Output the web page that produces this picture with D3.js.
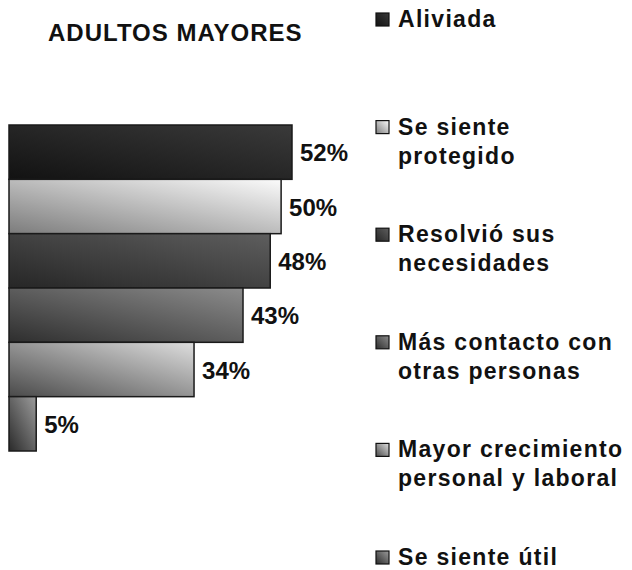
<!DOCTYPE html>
<html>
<head>
<meta charset="utf-8">
<script src="https://cdn.jsdelivr.net/npm/d3@7"></script>
<style>
  body { margin: 0; background: #fff; }
  text { font-family: "Liberation Sans", Arial, sans-serif; font-weight: bold; fill: #111; }
</style>
</head>
<body>
<div id="chart"></div>
<script>
// Data
const categories = ["Aliviada", "Se siente protegido", "Resolvió sus necesidades",
  "Más contacto con otras personas", "Mayor crecimiento personal y laboral", "Se siente útil"];
const values = [52, 50, 48, 43, 34, 5];
const legendLines = [["Aliviada"], ["Se siente", "protegido"], ["Resolvió sus", "necesidades"],
  ["Más contacto con", "otras personas"], ["Mayor crecimiento", "personal y laboral"], ["Se siente útil"]];
const shadesDark = ["#121212", "#7c7c7c", "#262626", "#2e2e2e", "#4a4a4a", "#2a2a2a"];
const shadesLight = ["#3a3a3a", "#fbfbfb", "#5e5e5e", "#8c8c8c", "#dedede", "#9c9c9c"];
const title = "ADULTOS MAYORES";

const W = 632, H = 570;
const svg = d3.select("#chart").append("svg")
  .attr("width", W)
  .attr("height", H);

const data = categories.map((c, i) => ({ cat: c, value: values[i], i: i }));

// gradients: dark bottom-left to light top-right
const defs = svg.append("defs");
data.forEach(d => {
  const g = defs.append("linearGradient")
    .attr("id", "grad" + d.i)
    .attr("x1", 0).attr("y1", 1)
    .attr("x2", 1).attr("y2", 0);
  g.append("stop").attr("offset", "0%").attr("stop-color", shadesDark[d.i]);
  g.append("stop").attr("offset", "100%").attr("stop-color", shadesLight[d.i]);
});

const x = d3.scaleLinear()
  .domain([0, 52])
  .range([9, 292]);

const y = d3.scaleBand()
  .domain(categories)
  .range([125, 451])
  .padding(0);

svg.append("text")
  .attr("x", 48)
  .attr("y", 41)
  .style("font-size", "24px")
  .style("letter-spacing", "1px")
  .text(title);

svg.selectAll(".bar")
  .data(data)
  .enter().append("rect")
  .attr("class", "bar")
  .attr("x", x(0))
  .attr("y", d => y(d.cat))
  .attr("width", d => x(d.value) - x(0))
  .attr("height", y.bandwidth())
  .attr("fill", d => "url(#grad" + d.i + ")")
  .attr("stroke", "#1a1a1a")
  .attr("stroke-width", 1.5);

svg.selectAll(".label")
  .data(data)
  .enter().append("text")
  .attr("class", "label")
  .attr("x", d => x(d.value) + 8)
  .attr("y", d => y(d.cat) + y.bandwidth() / 2 + 9)
  .style("font-size", "24px")
  .text(d => d.value + "%");

// legend
const legendY = d3.scalePoint()
  .domain(categories)
  .range([27, 565]);

const legend = svg.selectAll(".legend")
  .data(data)
  .enter().append("g")
  .attr("class", "legend")
  .attr("transform", d => "translate(376," + legendY(d.cat) + ")");

legend.append("rect")
  .attr("x", 0)
  .attr("y", -14)
  .attr("width", 13)
  .attr("height", 13)
  .attr("fill", d => "url(#grad" + d.i + ")")
  .attr("stroke", "#111")
  .attr("stroke-width", 1.2);

legend.each(function (d) {
  const t = d3.select(this).append("text")
    .attr("x", 22)
    .attr("y", 0)
    .style("font-size", "23px")
    .style("letter-spacing", "1.3px");
  legendLines[d.i].forEach((line, k) => {
    t.append("tspan")
      .attr("x", 22)
      .attr("dy", k === 0 ? 0 : 29)
      .text(line);
  });
});
</script>
</body>
</html>
